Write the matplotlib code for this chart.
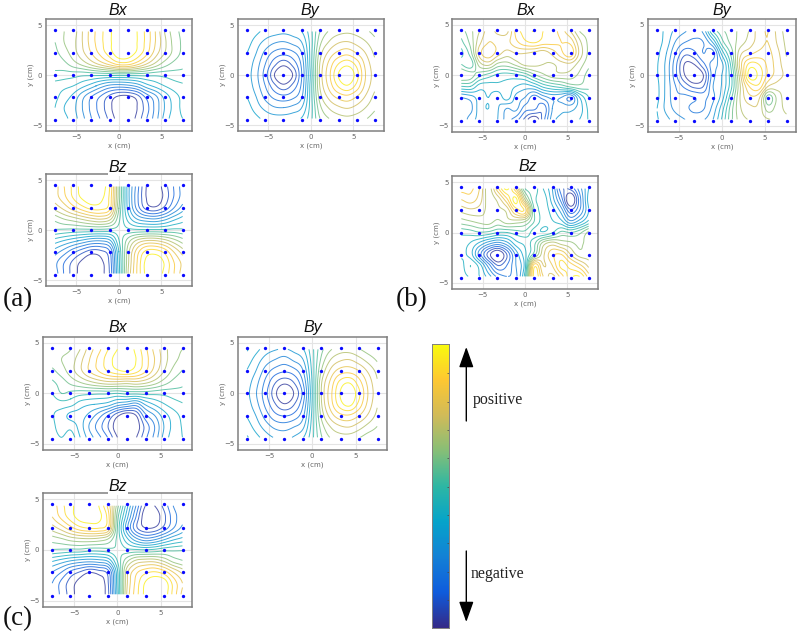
#!/bin/python3

import numpy as np
import matplotlib
matplotlib.use("Agg")
import matplotlib.pyplot as plt
from matplotlib.colors import LinearSegmentedColormap

W, H = 800, 634

parula_colors = ["#352A87", "#0F5CDD", "#1481D6", "#06A4CA", "#2EB7A4",
                 "#87BF77", "#D1BB59", "#FEC832", "#F9FB0E"]
parula = LinearSegmentedColormap.from_list("parula", parula_colors)

# sensor positions
sensor_x = [-7.55, -5.4, -3.27, -1.07, 1.07, 3.27, 5.4, 7.55]
sensor_y = [-4.5, -2.2, 0, 2.2, 4.5]

# field grid, rows go from top to bottom
grid_x = np.linspace(-7.5, 7.5, 15)
grid_y = np.linspace(4.35, -4.35, 9)

a_bx = [
    [.20, .25, .30, .45, .60, .72, .83, .92, .93, .85, .72, .55, .35, .20, .12],
    [.15, .25, .32, .45, .60, .72, .83, .93, .95, .85, .72, .55, .38, .22, .13],
    [.12, .20, .30, .42, .55, .68, .80, .92, .92, .82, .68, .50, .35, .22, .12],
    [.08, .12, .20, .28, .38, .48, .58, .68, .68, .58, .45, .32, .20, .12, .07],
    [.02, .00, -.01, -.03, -.03, -.03, -.03, -.02, -.02, -.02, -.02, -.03, -.02, .00, .02],
    [-.10, -.12, -.15, -.22, -.30, -.40, -.48, -.50, -.48, -.42, -.30, -.22, -.15, -.10, -.07],
    [-.12, -.20, -.28, -.42, -.55, -.66, -.78, -.87, -.88, -.80, -.62, -.48, -.32, -.20, -.12],
    [-.15, -.25, -.32, -.45, -.58, -.70, -.82, -.94, -.96, -.85, -.70, -.52, -.35, -.22, -.12],
    [-.15, -.22, -.30, -.42, -.55, -.66, -.78, -.90, -.92, -.82, -.66, -.50, -.32, -.20, -.15],
]
a_by = [
    [-.15, -.22, -.28, -.30, -.32, -.30, -.25, -.08, .15, .26, .31, .33, .31, .27, .22],
    [-.20, -.30, -.38, -.44, -.46, -.42, -.35, -.10, .22, .36, .44, .46, .42, .36, .28],
    [-.25, -.35, -.48, -.58, -.62, -.58, -.45, -.10, .30, .48, .58, .62, .55, .45, .33],
    [-.28, -.40, -.55, -.72, -.82, -.72, -.52, -.10, .36, .58, .75, .82, .72, .52, .38],
    [-.30, -.42, -.60, -.85, -.98, -.85, -.55, -.12, .38, .62, .85, .95, .80, .55, .40],
    [-.28, -.40, -.55, -.72, -.82, -.72, -.52, -.10, .36, .58, .76, .84, .72, .52, .38],
    [-.25, -.35, -.48, -.58, -.62, -.58, -.46, -.10, .30, .48, .58, .62, .55, .44, .32],
    [-.20, -.30, -.38, -.44, -.45, -.42, -.35, -.10, .22, .36, .43, .46, .42, .35, .27],
    [-.15, -.22, -.28, -.30, -.30, -.28, -.24, -.08, .15, .25, .30, .32, .30, .26, .20],
]
a_bz = [
    [.50, .65, .78, .90, .95, .90, .75, .20, -.30, -.60, -.85, -.92, -.80, -.65, -.50],
    [.50, .62, .76, .87, .93, .88, .72, .20, -.30, -.62, -.85, -.93, -.82, -.65, -.50],
    [.38, .48, .60, .70, .78, .78, .68, .15, -.28, -.58, -.78, -.82, -.72, -.55, -.40],
    [.18, .25, .30, .36, .42, .45, .38, .08, -.18, -.35, -.42, -.44, -.38, -.28, -.20],
    [.04, .03, .02, .02, .02, .02, .01, .01, -.02, -.03, -.03, -.03, -.03, -.02, -.03],
    [-.20, -.26, -.32, -.38, -.44, -.45, -.38, -.06, .20, .38, .46, .46, .40, .30, .20],
    [-.40, -.50, -.62, -.72, -.80, -.78, -.66, -.15, .30, .60, .78, .80, .72, .55, .40],
    [-.52, -.65, -.78, -.88, -.95, -.88, -.72, -.18, .32, .65, .88, .93, .84, .66, .52],
    [-.50, -.66, -.80, -.90, -.93, -.88, -.74, -.20, .35, .66, .88, .93, .82, .66, .50],
]

b_bx = [
    [.10, .22, .35, .50, .42, .42, .68, .80, .85, .75, .70, .60, .45, .25, .20],
    [.02, .18, .42, .55, .52, .52, .62, .72, .76, .70, .68, .65, .62, .38, .22],
    [-.08, .10, .50, .62, .50, .40, .45, .45, .42, .38, .48, .62, .72, .42, .22],
    [.05, -.02, .30, .38, .22, .20, .28, .38, .38, .35, .34, .40, .42, .30, .18],
    [.25, .20, .08, .00, -.08, -.10, -.08, -.02, .12, .22, .30, .32, .30, .22, .10],
    [-.05, -.05, -.20, -.20, -.18, -.18, -.25, -.30, -.25, -.12, -.05, .00, .08, .12, .08],
    [-.45, -.40, -.30, -.25, -.32, -.20, -.38, -.45, -.60, -.50, -.42, -.45, -.55, -.25, -.05],
    [-.50, -.48, -.30, -.25, -.34, -.45, -.42, -.60, -.62, -.72, -.45, -.38, -.38, -.30, -.12],
    [-.55, -.40, -.32, -.28, -.35, -.50, -.60, -.78, -.95, -.70, -.40, -.32, -.30, -.25, -.14],
]
b_by = [
    [-.20, -.28, -.38, -.44, -.50, -.42, -.05, .12, .20, .28, .36, .50, .55, .42, .30],
    [-.20, -.30, -.46, -.55, -.58, -.55, -.35, .00, .18, .30, .40, .50, .55, .44, .32],
    [-.22, -.35, -.55, -.72, -.68, -.55, -.60, -.22, .08, .42, .52, .58, .58, .48, .34],
    [-.24, -.38, -.62, -.86, -.85, -.68, -.50, -.38, -.02, .50, .78, .75, .62, .50, .38],
    [-.24, -.38, -.62, -.85, -.98, -.85, -.50, -.35, -.08, .42, .90, .82, .62, .50, .42],
    [-.22, -.38, -.55, -.68, -.78, -.75, -.46, -.34, -.08, .35, .66, .72, .45, .40, .38],
    [-.22, -.38, -.52, -.52, -.55, -.58, -.48, -.30, .02, .36, .52, .48, .10, .28, .42],
    [-.25, -.38, -.48, -.52, -.58, -.56, -.42, -.20, .10, .34, .42, .42, .20, .30, .38],
    [-.24, -.32, -.40, -.45, -.48, -.46, -.36, -.14, .12, .30, .36, .40, .36, .32, .32],
]
b_bz = [
    [.70, .68, .55, .30, .62, .88, .55, .05, .00, -.15, -.35, -.72, -.72, -.50, -.25],
    [.55, .60, .50, .30, .38, .62, .88, .35, -.02, -.08, -.30, -.60, -.98, -.60, -.20],
    [.38, .42, .40, .32, .32, .38, .68, .72, .05, -.08, -.20, -.40, -.72, -.55, -.25],
    [.20, .24, .28, .30, .22, .30, .30, .25, .05, -.10, -.14, -.22, -.42, -.30, -.12],
    [-.02, .00, .04, .02, -.05, -.05, .00, .02, -.10, -.14, -.06, .08, .05, .12, .28],
    [-.10, -.16, -.28, -.42, -.50, -.40, -.20, -.12, .02, .30, .40, .32, .28, .22, .32],
    [-.12, -.20, -.50, -.80, -.98, -.75, -.42, -.18, .10, .42, .62, .65, .45, .30, .30],
    [-.20, -.05, -.20, -.50, -.75, -.65, -.45, -.20, .70, .45, .55, .78, .70, .58, .42],
    [-.20, -.14, -.15, -.30, -.48, -.55, -.48, -.10, .80, .55, .42, .60, .82, .85, .60],
]

c_bx = [
    [.20, .22, .25, .35, .50, .62, .75, .85, .93, .82, .68, .52, .40, .28, .25],
    [.20, .25, .30, .42, .55, .68, .80, .90, .95, .85, .70, .55, .40, .28, .22],
    [.12, .20, .30, .42, .55, .65, .75, .82, .85, .78, .66, .50, .35, .22, .14],
    [.03, .10, .18, .25, .32, .38, .42, .42, .40, .42, .38, .30, .20, .12, .07],
    [-.05, .05, .02, -.01, -.02, -.03, -.03, -.05, -.02, -.02, -.01, -.02, -.02, .00, .02],
    [-.12, -.10, -.12, -.20, -.24, -.26, -.30, -.40, -.45, -.50, -.34, -.24, -.16, -.10, -.06],
    [-.14, -.20, -.28, -.30, -.38, -.50, -.65, -.82, -.93, -.85, -.58, -.45, -.30, -.20, -.12],
    [-.12, -.20, -.18, -.30, -.46, -.60, -.75, -.92, -1.0, -.92, -.72, -.55, -.35, -.22, -.14],
    [-.10, -.15, -.10, -.25, -.40, -.52, -.66, -.85, -.98, -.86, -.68, -.52, -.32, -.20, -.15],
]
c_by = [
    [-.14, -.22, -.30, -.34, -.36, -.32, -.26, -.08, .12, .24, .30, .30, .26, .20, .16],
    [-.20, -.30, -.40, -.46, -.50, -.44, -.36, -.10, .18, .36, .44, .46, .40, .32, .24],
    [-.26, -.36, -.50, -.60, -.64, -.60, -.46, -.12, .26, .48, .60, .62, .56, .44, .32],
    [-.30, -.42, -.58, -.74, -.82, -.75, -.55, -.14, .34, .58, .78, .84, .70, .52, .36],
    [-.32, -.45, -.62, -.82, -.98, -.85, -.62, -.15, .36, .62, .85, .95, .78, .55, .38],
    [-.30, -.42, -.58, -.74, -.84, -.76, -.56, -.14, .34, .60, .80, .88, .72, .52, .36],
    [-.26, -.36, -.50, -.62, -.66, -.62, -.48, -.12, .28, .50, .62, .64, .56, .44, .32],
    [-.20, -.30, -.40, -.48, -.50, -.46, -.38, -.10, .20, .36, .44, .46, .40, .32, .25],
    [-.14, -.22, -.30, -.36, -.38, -.34, -.26, -.08, .14, .26, .30, .30, .26, .20, .18],
]
c_bz = [
    [.58, .72, .82, .92, .98, .85, .62, .20, -.20, -.55, -.85, -.85, -.72, -.55, -.45],
    [.55, .68, .80, .90, .92, .88, .70, .10, -.30, -.65, -.92, -.92, -.78, -.60, -.48],
    [.40, .50, .62, .72, .76, .76, .66, .05, -.40, -.72, -.85, -.84, -.72, -.56, -.42],
    [.20, .24, .30, .33, .34, .32, .25, .02, -.22, -.42, -.52, -.48, -.38, -.28, -.22],
    [.04, .03, .02, .02, -.01, -.01, .01, .03, -.02, -.03, -.04, -.02, .02, .03, .04],
    [-.24, -.30, -.36, -.40, -.42, -.40, -.34, -.05, .22, .38, .42, .42, .34, .22, .16],
    [-.45, -.55, -.68, -.76, -.84, -.80, -.70, -.18, .40, .62, .72, .76, .70, .55, .42],
    [-.55, -.68, -.80, -.90, -.98, -.92, -.76, -.20, .42, .68, .86, .94, .92, .72, .55],
    [-.55, -.68, -.80, -.92, -.95, -.90, -.78, -.22, .45, .70, .88, .96, .92, .72, .52],
]

levels = np.arange(-0.85, 0.86, 0.1)
colorbar_ticks = [115, 200, 285, 370, 455, 540, 625, 710, 795]


def smooth_columns(v, n=8):
    # catmull-rom along axis 0, just to round off the contour lines
    v = np.asarray(v, dtype=float)
    p = np.concatenate([[2*v[0]-v[1]], v, [2*v[-1]-v[-2]]])
    t = np.arange((len(v)-1)*n+1)/n
    i = np.minimum(t.astype(int), len(v)-2)
    s = (t-i)[:, None]
    p0, p1, p2, p3 = p[i], p[i+1], p[i+2], p[i+3]
    return 0.5*(2*p1 + (p2-p0)*s + (2*p0-5*p1+4*p2-p3)*s**2 + (3*p1-p0-3*p2+p3)*s**3)


def smooth_field(v):
    return smooth_columns(smooth_columns(v).T).T


def add_axes_px(left, right, top, bottom):
    return fig.add_axes([left/W, 1-bottom/H, (right-left)/W, (bottom-top)/H])


def draw_panel(values, box, title, title_x, title_y):
    ax = add_axes_px(*box)
    fine_x = np.interp(np.arange(113)/8, np.arange(15), grid_x)
    fine_y = np.interp(np.arange(65)/8, np.arange(9), grid_y)
    ax.contour(fine_x, fine_y, smooth_field(values), levels=levels, cmap=parula,
               vmin=-0.9, vmax=0.9, linewidths=0.7, alpha=0.8)
    xs, ys = np.meshgrid(sensor_x, sensor_y)
    ax.plot(xs.ravel(), ys.ravel(), "o", color="#0a0aff", ms=2.4, mew=0, zorder=4)
    ax.set_xlim(-8.6, 8.6)
    ax.set_ylim(-5.6, 5.6)
    ax.set_xticks([-5, 0, 5])
    ax.set_yticks([-5, 0, 5])
    ax.grid(color="#e4e4e4", lw=0.8)
    ax.set_axisbelow(True)
    ax.tick_params(labelsize=5, length=0, pad=2.5, colors="#666666")
    ax.set_xlabel("x (cm)", fontsize=5, color="#666666", labelpad=1.5)
    ax.set_ylabel("y (cm)", fontsize=5, color="#666666", labelpad=-1.5)
    for s in ax.spines.values():
        s.set_color("#808080")
        s.set_linewidth(1.1)
    overlay.text(title_x, title_y, title, fontsize=11.5, style="italic", ha="center",
                 va="baseline", family="Liberation Sans", color="#111111", zorder=10,
                 bbox=dict(fc="white", ec="none", pad=0.6) if title == "Bz" else None)


fig = plt.figure(figsize=(W/100, H/100), dpi=100)

overlay = fig.add_axes([0, 0, 1, 1], zorder=10)
overlay.set_xlim(0, W)
overlay.set_ylim(H, 0)
overlay.axis("off")

draw_panel(a_bx, (45.7, 192, 19, 131), "Bx", 118, 15)
draw_panel(a_by, (237.7, 384, 19, 131), "By", 310, 15)
draw_panel(a_bz, (45.7, 192, 174, 286), "Bz", 118, 172)
draw_panel(b_bx, (452, 598, 18.7, 132), "Bx", 525.7, 15)
draw_panel(b_by, (647.7, 796, 18.7, 132), "By", 722, 15)
draw_panel(b_bz, (452, 598, 176, 289), "Bz", 527.7, 171)
draw_panel(c_bx, (42.7, 192, 336.7, 450), "Bx", 118, 332)
draw_panel(c_by, (237.7, 386.7, 336.7, 450), "By", 312.7, 332)
draw_panel(c_bz, (42.7, 192, 493, 607), "Bz", 118, 491)

for label, x, y in [("(a)", 18, 306), ("(b)", 412, 306), ("(c)", 18, 625)]:
    overlay.text(x, y, label, fontsize=19.5, ha="center", va="baseline",
                 family="Liberation Serif", color="#111111")

# colour bar
cax = add_axes_px(432, 449, 344.3, 628)
cax.imshow(np.linspace(1, 0, 256)[:, None], cmap=parula, aspect="auto", extent=[0, 1, 628, 344.3])
cax.set_xticks([])
cax.yaxis.tick_right()
cax.set_yticks([335+t/3 for t in colorbar_ticks])
cax.set_yticklabels([])
cax.tick_params(axis="y", direction="in", length=1.5, width=0.5, color="#444444")
for s in cax.spines.values():
    s.set_color("#808080")
    s.set_linewidth(0.7)

arrow = dict(arrowstyle="-|>,head_width=0.32,head_length=0.9", color="black", lw=1.0,
             shrinkA=0, shrinkB=0, mutation_scale=14)
overlay.annotate("", xy=(466.3, 347), xytext=(466.3, 421), arrowprops=arrow)
overlay.annotate("", xy=(466.3, 622), xytext=(466.3, 551), arrowprops=arrow)
overlay.text(497.7, 400, "positive", fontsize=11.4, ha="center", va="center",
             family="Liberation Serif", color="#222222")
overlay.text(497.3, 574, "negative", fontsize=11.4, ha="center", va="center",
             family="Liberation Serif", color="#222222")

fig.savefig("out.png", dpi=100)
